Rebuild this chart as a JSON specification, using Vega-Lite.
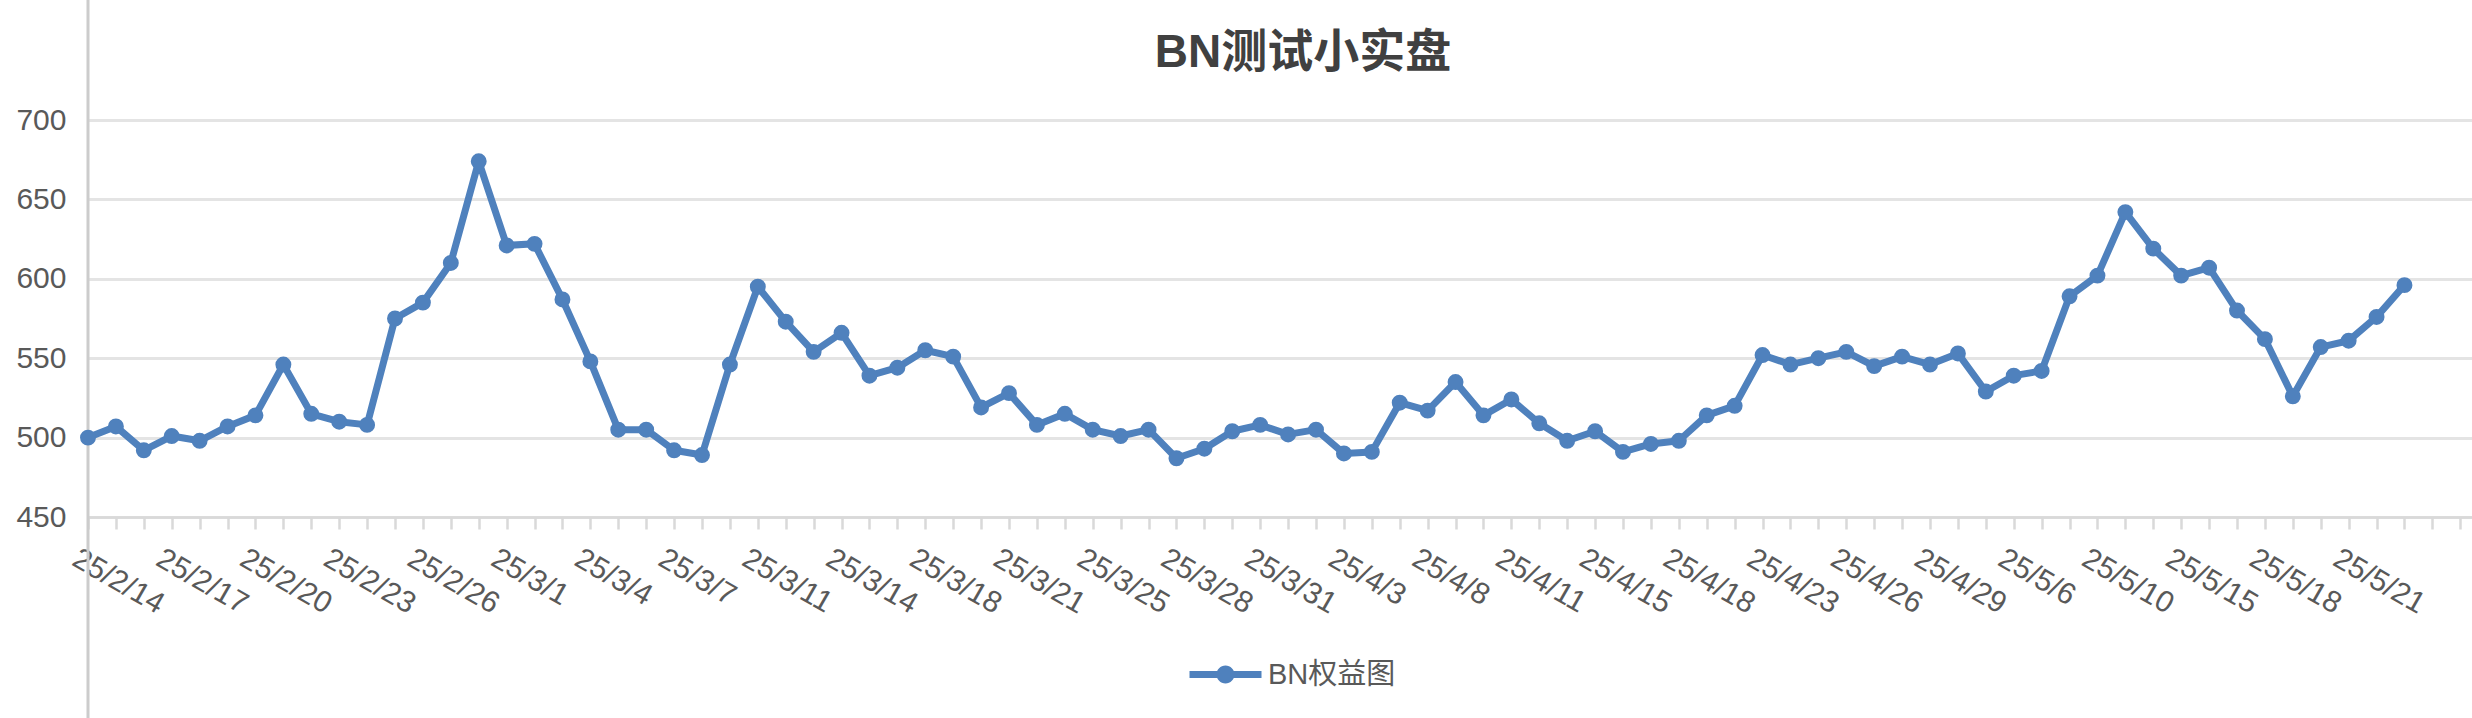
{
  "$schema": "https://vega.github.io/schema/vega-lite/v6.json",
  "autosize": {"type": "none"},
  "width": 2384,
  "height": 397,
  "padding": {"left": 88, "top": 120, "right": 0, "bottom": 201},
  "background": "white",
  "config": {"view": {"stroke": null}, "font": "Liberation Sans, Noto Sans CJK SC"},
  "title": {"text": "BN测试小实盘", "fontSize": 46, "fontWeight": "bold", "color": "#404040", "font": "Liberation Sans, Noto Sans CJK SC", "anchor": "middle", "frame": "group", "offset": -86, "dx": 23},
  "data": {"values": [
    {"d": "25/2/14", "v": 500, "s": "BN权益图"},
    {"d": "25/2/15", "v": 507, "s": "BN权益图"},
    {"d": "25/2/16", "v": 492, "s": "BN权益图"},
    {"d": "25/2/17", "v": 501, "s": "BN权益图"},
    {"d": "25/2/18", "v": 498, "s": "BN权益图"},
    {"d": "25/2/19", "v": 507, "s": "BN权益图"},
    {"d": "25/2/20", "v": 514, "s": "BN权益图"},
    {"d": "25/2/21", "v": 546, "s": "BN权益图"},
    {"d": "25/2/22", "v": 515, "s": "BN权益图"},
    {"d": "25/2/23", "v": 510, "s": "BN权益图"},
    {"d": "25/2/24", "v": 508, "s": "BN权益图"},
    {"d": "25/2/25", "v": 575, "s": "BN权益图"},
    {"d": "25/2/26", "v": 585, "s": "BN权益图"},
    {"d": "25/2/27", "v": 610, "s": "BN权益图"},
    {"d": "25/2/28", "v": 674, "s": "BN权益图"},
    {"d": "25/3/1", "v": 621, "s": "BN权益图"},
    {"d": "25/3/2", "v": 622, "s": "BN权益图"},
    {"d": "25/3/3", "v": 587, "s": "BN权益图"},
    {"d": "25/3/4", "v": 548, "s": "BN权益图"},
    {"d": "25/3/5", "v": 505, "s": "BN权益图"},
    {"d": "25/3/6", "v": 505, "s": "BN权益图"},
    {"d": "25/3/7", "v": 492, "s": "BN权益图"},
    {"d": "25/3/9", "v": 489, "s": "BN权益图"},
    {"d": "25/3/10", "v": 546, "s": "BN权益图"},
    {"d": "25/3/11", "v": 595, "s": "BN权益图"},
    {"d": "25/3/12", "v": 573, "s": "BN权益图"},
    {"d": "25/3/13", "v": 554, "s": "BN权益图"},
    {"d": "25/3/14", "v": 566, "s": "BN权益图"},
    {"d": "25/3/15", "v": 539, "s": "BN权益图"},
    {"d": "25/3/17", "v": 544, "s": "BN权益图"},
    {"d": "25/3/18", "v": 555, "s": "BN权益图"},
    {"d": "25/3/19", "v": 551, "s": "BN权益图"},
    {"d": "25/3/20", "v": 519, "s": "BN权益图"},
    {"d": "25/3/21", "v": 528, "s": "BN权益图"},
    {"d": "25/3/23", "v": 508, "s": "BN权益图"},
    {"d": "25/3/24", "v": 515, "s": "BN权益图"},
    {"d": "25/3/25", "v": 505, "s": "BN权益图"},
    {"d": "25/3/26", "v": 501, "s": "BN权益图"},
    {"d": "25/3/27", "v": 505, "s": "BN权益图"},
    {"d": "25/3/28", "v": 487, "s": "BN权益图"},
    {"d": "25/3/29", "v": 493, "s": "BN权益图"},
    {"d": "25/3/30", "v": 504, "s": "BN权益图"},
    {"d": "25/3/31", "v": 508, "s": "BN权益图"},
    {"d": "25/4/1", "v": 502, "s": "BN权益图"},
    {"d": "25/4/2", "v": 505, "s": "BN权益图"},
    {"d": "25/4/3", "v": 490, "s": "BN权益图"},
    {"d": "25/4/6", "v": 491, "s": "BN权益图"},
    {"d": "25/4/7", "v": 522, "s": "BN权益图"},
    {"d": "25/4/8", "v": 517, "s": "BN权益图"},
    {"d": "25/4/9", "v": 535, "s": "BN权益图"},
    {"d": "25/4/10", "v": 514, "s": "BN权益图"},
    {"d": "25/4/11", "v": 524, "s": "BN权益图"},
    {"d": "25/4/13", "v": 509, "s": "BN权益图"},
    {"d": "25/4/14", "v": 498, "s": "BN权益图"},
    {"d": "25/4/15", "v": 504, "s": "BN权益图"},
    {"d": "25/4/16", "v": 491, "s": "BN权益图"},
    {"d": "25/4/17", "v": 496, "s": "BN权益图"},
    {"d": "25/4/18", "v": 498, "s": "BN权益图"},
    {"d": "25/4/21", "v": 514, "s": "BN权益图"},
    {"d": "25/4/22", "v": 520, "s": "BN权益图"},
    {"d": "25/4/23", "v": 552, "s": "BN权益图"},
    {"d": "25/4/24", "v": 546, "s": "BN权益图"},
    {"d": "25/4/25", "v": 550, "s": "BN权益图"},
    {"d": "25/4/26", "v": 554, "s": "BN权益图"},
    {"d": "25/4/27", "v": 545, "s": "BN权益图"},
    {"d": "25/4/28", "v": 551, "s": "BN权益图"},
    {"d": "25/4/29", "v": 546, "s": "BN权益图"},
    {"d": "25/4/30", "v": 553, "s": "BN权益图"},
    {"d": "25/5/5", "v": 529, "s": "BN权益图"},
    {"d": "25/5/6", "v": 539, "s": "BN权益图"},
    {"d": "25/5/8", "v": 542, "s": "BN权益图"},
    {"d": "25/5/9", "v": 589, "s": "BN权益图"},
    {"d": "25/5/10", "v": 602, "s": "BN权益图"},
    {"d": "25/5/13", "v": 642, "s": "BN权益图"},
    {"d": "25/5/14", "v": 619, "s": "BN权益图"},
    {"d": "25/5/15", "v": 602, "s": "BN权益图"},
    {"d": "25/5/16", "v": 607, "s": "BN权益图"},
    {"d": "25/5/17", "v": 580, "s": "BN权益图"},
    {"d": "25/5/18", "v": 562, "s": "BN权益图"},
    {"d": "25/5/19", "v": 526, "s": "BN权益图"},
    {"d": "25/5/20", "v": 557, "s": "BN权益图"},
    {"d": "25/5/21", "v": 561, "s": "BN权益图"},
    {"d": "25/5/22", "v": 576, "s": "BN权益图"},
    {"d": "25/5/23", "v": 596, "s": "BN权益图"}
  ]},
  "encoding": {
    "x": {
      "field": "d", "type": "nominal",
      "scale": {"type": "point", "padding": 0.21, "align": 0,
        "domain": ["25/2/14","25/2/15","25/2/16","25/2/17","25/2/18","25/2/19","25/2/20","25/2/21","25/2/22","25/2/23","25/2/24","25/2/25","25/2/26","25/2/27","25/2/28","25/3/1","25/3/2","25/3/3","25/3/4","25/3/5","25/3/6","25/3/7","25/3/9","25/3/10","25/3/11","25/3/12","25/3/13","25/3/14","25/3/15","25/3/17","25/3/18","25/3/19","25/3/20","25/3/21","25/3/23","25/3/24","25/3/25","25/3/26","25/3/27","25/3/28","25/3/29","25/3/30","25/3/31","25/4/1","25/4/2","25/4/3","25/4/6","25/4/7","25/4/8","25/4/9","25/4/10","25/4/11","25/4/13","25/4/14","25/4/15","25/4/16","25/4/17","25/4/18","25/4/21","25/4/22","25/4/23","25/4/24","25/4/25","25/4/26","25/4/27","25/4/28","25/4/29","25/4/30","25/5/5","25/5/6","25/5/8","25/5/9","25/5/10","25/5/13","25/5/14","25/5/15","25/5/16","25/5/17","25/5/18","25/5/19","25/5/20","25/5/21","25/5/22","25/5/23"," ","  "]},
      "axis": {
        "title": null, "grid": false,
        "domainColor": "#d9d9d9", "domainWidth": 2.5,
        "tickColor": "#d9d9d9", "tickWidth": 2.5, "tickSize": 12,
        "labelFont": "Liberation Sans", "labelFontSize": 30, "labelColor": "#595959",
        "labelAngle": 30, "labelAlign": "left", "labelBaseline": "top",
        "labelPadding": 14, "labelOffset": -6,
        "labelExpr": "round(datum.index * 85) % 3 == 0 ? datum.label : ''"
      }
    },
    "y": {
      "field": "v", "type": "quantitative",
      "scale": {"domain": [450, 700], "zero": false, "nice": false},
      "axis": {
        "title": null, "values": [450, 500, 550, 600, 650, 700],
        "grid": true, "gridColor": "#e4e4e4", "gridWidth": 3,
        "domain": false, "ticks": false,
        "labelFont": "Liberation Sans", "labelFontSize": 30, "labelColor": "#595959",
        "labelPadding": 22
      }
    }
  },
  "layer": [
    {
      "data": {"values": [{"d": "25/2/14", "top": 780, "bot": 320}]},
      "mark": {"type": "rule", "color": "#cccccc", "strokeWidth": 3, "clip": false},
      "encoding": {
        "x": {"field": "d", "type": "nominal"},
        "y": {"field": "top", "type": "quantitative"},
        "y2": {"field": "bot"}
      }
    },
    {
      "mark": {"type": "line", "color": "#4F81BD", "strokeWidth": 7, "strokeJoin": "round", "strokeCap": "round"}
    },
    {
      "mark": {"type": "point", "filled": true, "size": 254, "opacity": 1},
      "encoding": {
        "color": {
          "field": "s", "type": "nominal",
          "scale": {"range": ["#4F81BD"]},
          "legend": {
            "title": null, "orient": "none", "legendX": 1123, "legendY": 540,
            "padding": 0,
            "symbolType": "M-4,-0.39H4V0.39H-4Z M-1,0A1,1 0 1,1 1,0A1,1 0 1,1 -1,0Z",
            "symbolSize": 324, "symbolStrokeWidth": 0, "symbolOpacity": 1,
            "labelFont": "Liberation Sans, Noto Sans CJK SC", "labelFontSize": 29, "labelColor": "#595959",
            "labelOffset": 28
          }
        }
      }
    }
  ]
}
